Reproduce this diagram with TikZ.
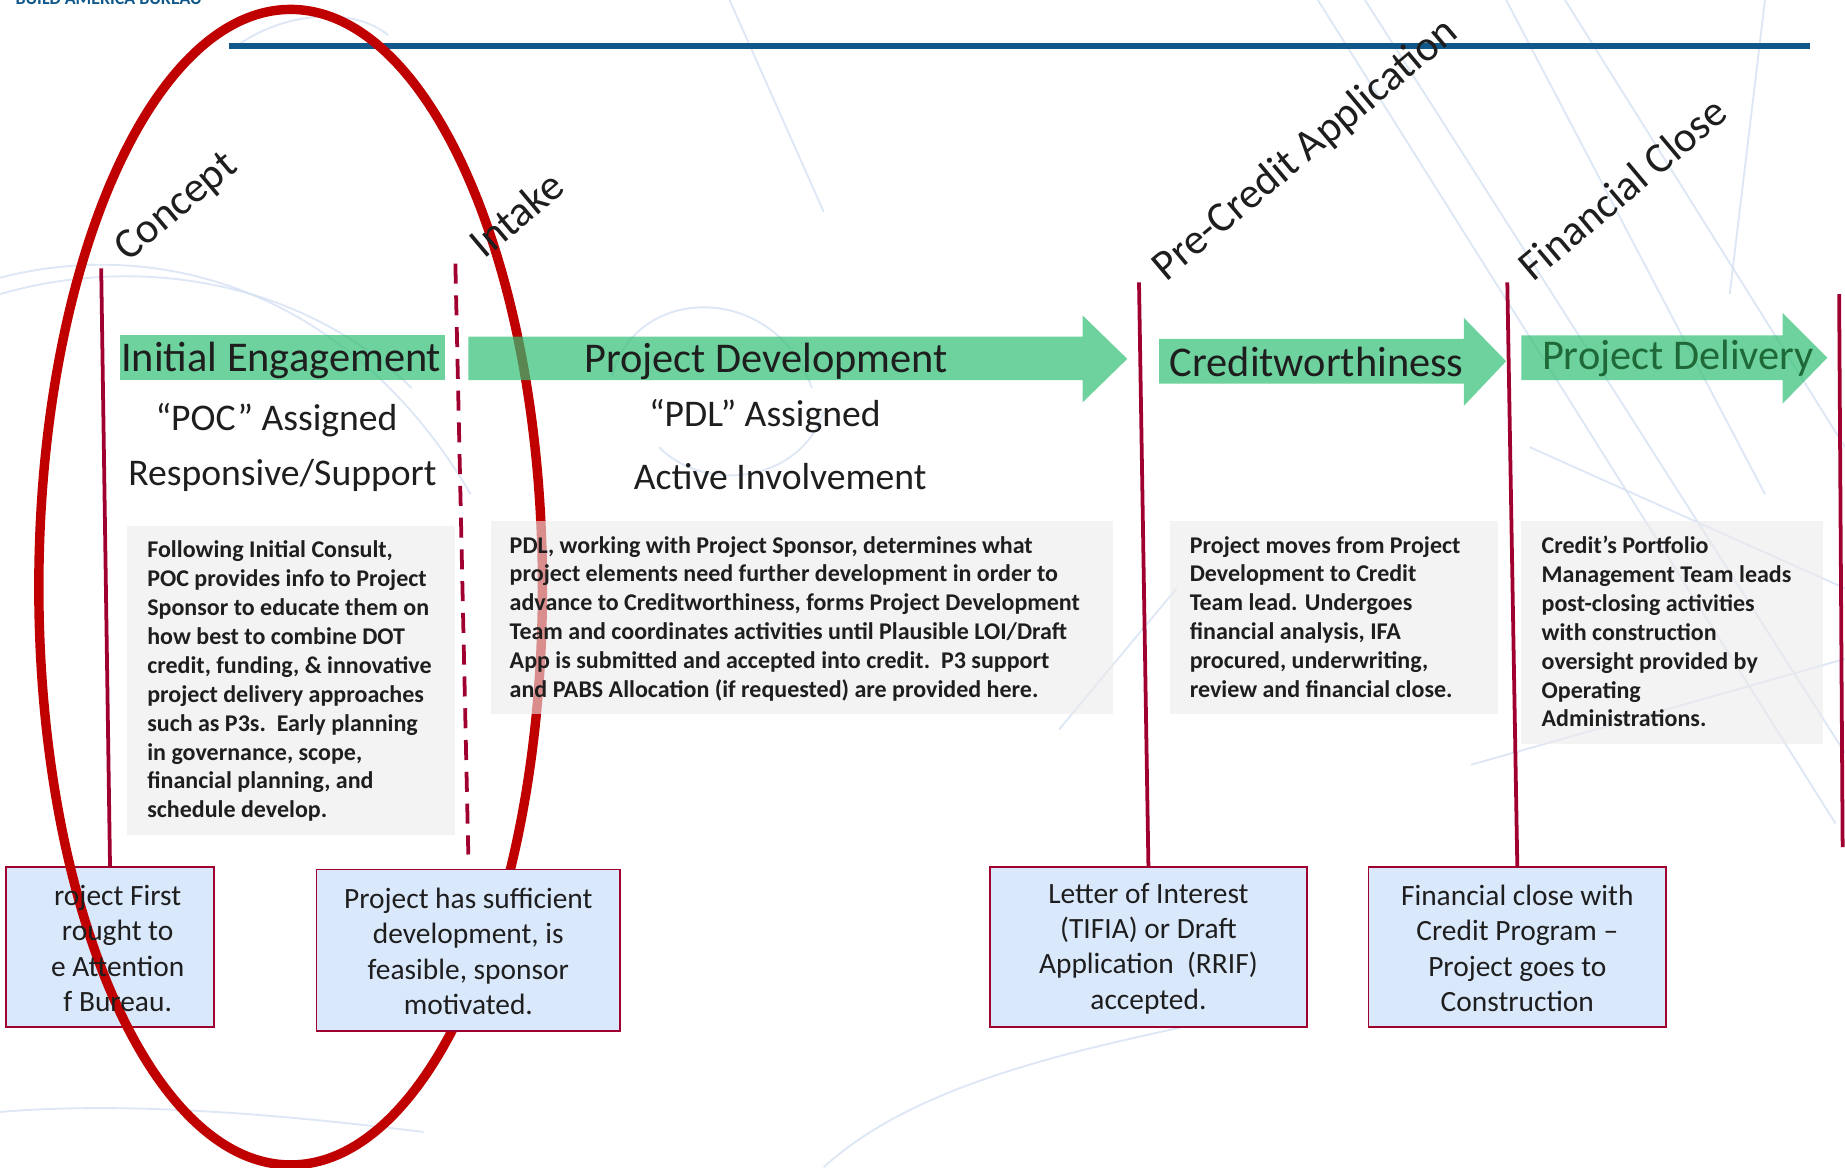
\documentclass[tikz,border=0pt]{standalone}
\usepackage{fontspec}
\setmainfont{Carlito}
\definecolor{gbar}{RGB}{48,192,116}
\definecolor{crim}{RGB}{160,0,48}
\definecolor{ellred}{RGB}{192,0,0}
\definecolor{topblue}{RGB}{16,88,138}
\definecolor{boxblue}{RGB}{218,232,252}
\definecolor{greybox}{RGB}{235,235,235}
\definecolor{sketch}{RGB}{212,224,242}
\definecolor{dgreen}{RGB}{30,105,55}
\definecolor{txt}{RGB}{30,30,30}
\tikzset{
  sketchline/.style={draw=sketch, line width=1.6pt, opacity=0.75},
  greenbar/.style={fill=gbar, fill opacity=0.7, draw=none},
  greyfill/.style={fill=greybox, fill opacity=0.6, draw=none},
  bluebox/.style={draw=crim, line width=1.6pt, fill=boxblue, inner sep=0pt},
  boxtext/.style={align=center, text=txt, font=\fontsize{25}{30}\selectfont, inner sep=0pt},
  bartext/.style={text=txt, font=\fontsize{36}{40}\selectfont, inner sep=0pt},
  subtext/.style={text=txt, font=\fontsize{32}{36}\selectfont, inner sep=0pt},
  desc/.style={align=left, text=txt, font=\bfseries\fontsize{20.4}{24.55}\selectfont, inner sep=0pt, anchor=north west},
  milestone/.style={text=txt, font=\fontsize{36.5}{40}\selectfont, inner sep=0pt, anchor=base west, rotate=40},
  vline/.style={draw=crim, line width=3.2pt},
}
\begin{document}
\begin{tikzpicture}[x=1pt,y=-1pt]
\useasboundingbox (0,0) rectangle (1568,992);
\fill[white] (0,0) rectangle (1568,992);

% faint background sketch
\draw[sketchline] (0,236) .. controls (140,200) and (300,250) .. (400,420);
\draw[sketchline] (0,250) .. controls (120,215) and (260,240) .. (350,330);
\draw[sketchline] (0,945) .. controls (120,935) and (260,950) .. (360,962);
\draw[sketchline] (520,320) .. controls (540,240) and (660,240) .. (690,330);
\draw[sketchline] (560,380) .. controls (600,420) and (680,410) .. (700,350);
\draw[sketchline] (620,0) -- (700,180);
\draw[sketchline] (1120,0) -- (1560,700);
\draw[sketchline] (1160,0) -- (1568,640);
\draw[sketchline] (1280,0) -- (1500,420);
\draw[sketchline] (1330,0) -- (1568,380);
\draw[sketchline] (1500,0) -- (1470,250);
\draw[sketchline] (900,620) -- (1000,500);
\draw[sketchline] (1300,380) -- (1568,500);
\draw[sketchline] (1250,650) -- (1568,560);
\draw[sketchline] (700,992) .. controls (800,900) and (1000,880) .. (1100,850);
\draw[sketchline] (200,40) .. controls (240,10) and (300,5) .. (330,30);

% header remnant
\node[anchor=base west, inner sep=0pt, text=topblue, font=\bfseries\fontsize{15.2}{16}\selectfont] (hdr) at (13,3.5) {BUILD AMERICA BUREAU};

% top blue rule
\coordinate (ruleL) at (195,39);
\coordinate (ruleR) at (1538,39);
\draw[topblue, line width=4.5pt] (ruleL) -- (ruleR);

% box A (under the ellipse)
\node[bluebox, minimum width=177pt, minimum height=136pt] (boxA) at (93.5,805) {};

% red ellipse
\coordinate (ell) at (247,499);
\draw[ellred, line width=8pt] (ell) ellipse [x radius=214, y radius=491];

% green bars
\fill[greenbar] (102,285) rectangle (378,323);
\fill[greenbar] (398,286) -- (920,286) -- (920,268) -- (958,305) -- (920,342) -- (920,323) -- (398,323) -- cycle;
\fill[greenbar] (985,288) -- (1244,288) -- (1244,270) -- (1280,307) -- (1244,345) -- (1244,326) -- (985,326) -- cycle;
\fill[greenbar] (1293,285) -- (1515,285) -- (1515,266) -- (1553,304) -- (1515,343) -- (1515,323) -- (1293,323) -- cycle;

% grey description boxes
\fill[greyfill] (108,447) rectangle (387,710);
\fill[greyfill] (417,443) rectangle (946,607);
\fill[greyfill] (994,443) rectangle (1273,607);
\fill[greyfill] (1293,443) rectangle (1549,632);

% other milestone boxes (over the ellipse)
\node[bluebox, minimum width=258pt, minimum height=137pt] (boxB) at (398,807.5) {};
\node[bluebox, minimum width=270pt, minimum height=136pt] (boxC) at (976,805) {};
\node[bluebox, minimum width=253pt, minimum height=136pt] (boxD) at (1289.5,805) {};

% vertical milestone lines
\coordinate (cTop) at (86,228);
\coordinate (iTop) at (387,224);
\coordinate (pTop) at (968,240);
\coordinate (fTop) at (1281,240);
\coordinate (eTop) at (1563,250);
\coordinate (eBot) at (1566,720);
\draw[vline] (cTop) -- (boxA.north);
\draw[vline, dash pattern=on 17pt off 10pt] (iTop) -- ([yshift=12pt]boxB.north);
\draw[vline] (pTop) -- (boxC.north);
\draw[vline] (fTop) -- (boxD.north);
\draw[vline] (eTop) -- (eBot);

% milestone labels
\node[milestone] (lConcept) at (109,223) {Concept};
\node[milestone] (lIntake) at (412,221) {Intake};
\node[milestone] (lPre) at (991,240) {Pre-Credit Application};
\node[milestone] (lFin) at (1303,240) {Financial Close};

% phase titles
\node[bartext] (tIE) at (239,306) {Initial Engagement};
\node[bartext] (tPD) at (651,307) {Project Development};
\node[bartext] (tCW) at (1119,308) {Creditworthiness};
\node[bartext, text=dgreen] (tPDel) at (1426,305) {Project Delivery};

\node[subtext] (sPOC) at (235,357) {“POC” Assigned};
\node[subtext] (sRS) at (240,404) {Responsive/Support};
\node[subtext] (sPDL) at (650,354) {“PDL” Assigned};
\node[subtext] (sAI) at (663,405) {Active Involvement};

% descriptions
\node[desc] (d1) at (125,459.5) {Following Initial Consult,\\POC provides info to Project\\Sponsor to educate them on\\how best to combine DOT\\credit, funding, \& innovative\\project delivery approaches\\such as P3s.\ \ Early planning\\in governance, scope,\\financial planning, and\\schedule develop.};
\node[desc] (d2) at (433,455.5) {PDL, working with Project Sponsor, determines what\\project elements need further development in order to\\advance to Creditworthiness, forms Project Development\\Team and coordinates activities until Plausible LOI/Draft\\App is submitted and accepted into credit.\ \ P3 support\\and PABS Allocation (if requested) are provided here.};
\node[desc] (d3) at (1011,455.5) {Project moves from Project\\Development to Credit\\Team lead. Undergoes\\financial analysis, IFA\\procured, underwriting,\\review and financial close.};
\node[desc] (d4) at (1310,455.5) {Credit’s Portfolio\\Management Team leads\\post-closing activities\\with construction\\oversight provided by\\Operating\\Administrations.};

% milestone box texts
\node[boxtext] (tA) at (100,806) {roject First\\rought to\\e Attention\\f Bureau.};
\node[boxtext] at ([yshift=-1pt]boxB.center) {Project has sufficient\\development, is\\feasible, sponsor\\motivated.};
\node[boxtext] at ([yshift=-1pt]boxC.center) {Letter of Interest\\(TIFIA) or Draft\\Application\ \ (RRIF)\\accepted.};
\node[boxtext] at ([yshift=-1pt]boxD.center) {Financial close with\\Credit Program –\\Project goes to\\Construction};
\end{tikzpicture}
\end{document}
